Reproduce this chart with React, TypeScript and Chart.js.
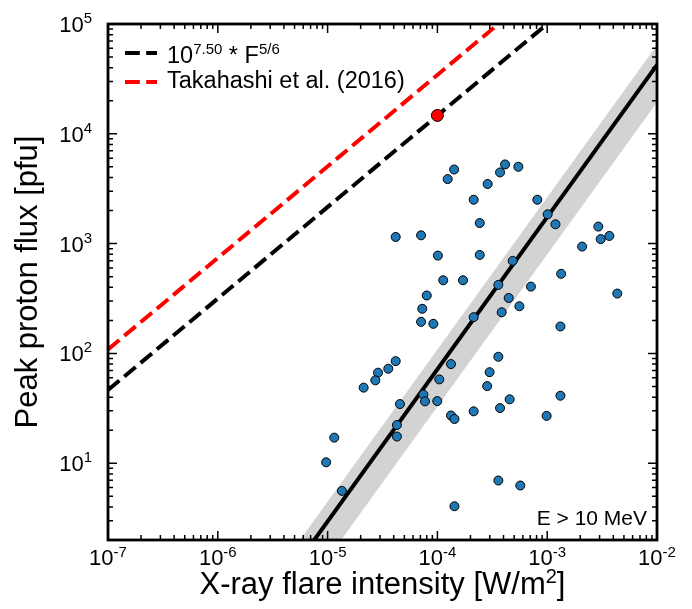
import React, { useEffect, useRef } from 'react';
import { Chart, registerables } from 'chart.js';

Chart.register(...registerables);

// ---- data ----
const FLARE_INTENSITY = [
  1.24e-4, 1.42e-4, 2.87e-4, 3.72e-4, 4.13e-4, 5.46e-4, 4.17e-5, 7.1e-5, 1.01e-4, 1.13e-4,
  1.71e-4, 8.0e-5, 2.14e-4, 2.43e-4, 2.43e-4, 8.13e-4, 1.01e-3, 1.19e-3, 4.85e-4, 3.59e-4,
  4.46e-4, 7.11e-4, 1.34e-3, 2.08e-3, 2.92e-3, 3.07e-3, 3.68e-3, 4.35e-3, 7.28e-5, 7.1e-5,
  9.18e-5, 2.14e-4, 3.85e-4, 5.58e-4, 1.32e-3, 4.17e-5, 3.57e-5, 2.88e-5, 2.72e-5, 2.13e-5,
  1.33e-4, 1.04e-4, 7.45e-5, 7.71e-5, 9.97e-5, 4.56e-5, 4.28e-5, 4.28e-5, 1.33e-4, 1.43e-4,
  3.59e-4, 2.99e-4, 2.84e-4, 4.55e-4, 3.72e-4, 2.14e-4, 9.88e-4, 1.32e-3, 3.59e-4, 5.69e-4,
  1.43e-4, 1.35e-5, 1.15e-5, 9.7e-6,
];
const PEAK_FLUX = [
  3870, 4730, 3490, 4450, 5260, 5010, 1150, 1190, 778, 464,
  464, 337, 2510, 1540, 789, 2510, 1850, 1500, 696, 421,
  320, 406, 531, 940, 1430, 1100, 1175, 351, 255, 194,
  186, 214, 237, 269, 176, 85.1, 72.6, 66.8, 56.9, 48.8,
  80.0, 58.0, 42.2, 36.6, 36.8, 34.6, 22.3, 17.5, 27.2, 25.3,
  93.3, 67.5, 50.4, 38.2, 31.8, 29.7, 27.0, 41.2, 6.96, 6.27,
  4.06, 5.6, 17.1, 10.2,
];
const HIGHLIGHT_X = [1.0e-4];
const HIGHLIGHT_Y = [14700];

// model lines: log10(y) = A + B * log10(x)
const FIT_LOG_A = 7.40;
const FIT_B = 1.386;
const BAND_UP = 0.18; // decades above fit
const BAND_DOWN = 0.34; // decades below fit
const UPPER_LOG_A = 7.5;
const UPPER_B = 5 / 6;
const TAKAHASHI_LOG_A = 7.87;
const TAKAHASHI_B = 5 / 6;

const X_MIN = 1e-7;
const X_MAX = 1e-2;
const Y_MIN = 2;
const Y_MAX = 1e5;
const X_TICK_EXP = ['-7', '-6', '-5', '-4', '-3', '-2'];
const Y_TICK_EXP = ['1', '2', '3', '4', '5'];

const LEGEND_1 = ['10', '7.50', ' * F', '5/6'];
const LEGEND_2 = 'Takahashi et al. (2016)';
const X_TITLE = ['X-ray flare intensity [W/m', '2', ']'];
const Y_TITLE = 'Peak proton flux [pfu]';
const ENERGY_LABEL = 'E > 10 MeV';

const FONT = "'Liberation Sans', Arial, Helvetica, sans-serif";
const DASH = [14.8, 6.4];

const line = (logA: number, b: number, shift = 0) =>
  [X_MIN, X_MAX].map((x) => ({ x, y: Math.pow(10, logA + shift + b * Math.log10(x)) }));

type Part = [string, number, number];
function drawParts(ctx: CanvasRenderingContext2D, parts: Part[], x: number, y: number, align: 'left' | 'center' | 'right') {
  let total = 0;
  for (const [t, s] of parts) {
    ctx.font = `${s}px ${FONT}`;
    total += ctx.measureText(t).width;
  }
  let cx = align === 'left' ? x : align === 'center' ? x - total / 2 : x - total;
  ctx.textAlign = 'left';
  ctx.textBaseline = 'alphabetic';
  for (const [t, s, r] of parts) {
    ctx.font = `${s}px ${FONT}`;
    ctx.fillText(t, cx, y - r);
    cx += ctx.measureText(t).width;
  }
}

const framePlugin = {
  id: 'frame',
  afterDatasetsDraw(chart: any) {
    const { ctx, chartArea: a, scales } = chart;
    const xs = scales.x;
    const ys = scales.y;
    ctx.save();
    ctx.fillStyle = '#000';
    ctx.strokeStyle = '#000';

    // minor / major ticks, inward on all four sides
    ctx.lineWidth = 1.5;
    ctx.beginPath();
    for (let e = Math.floor(Math.log10(X_MIN)); e <= Math.ceil(Math.log10(X_MAX)); e++) {
      for (let m = 1; m <= 9; m++) {
        const v = m * Math.pow(10, e);
        if (v < X_MIN * 0.999 || v > X_MAX * 1.001) continue;
        const px = xs.getPixelForValue(v);
        const len = m === 1 ? 9 : 5;
        ctx.moveTo(px, a.bottom);
        ctx.lineTo(px, a.bottom - len);
        ctx.moveTo(px, a.top);
        ctx.lineTo(px, a.top + len);
      }
    }
    for (let e = Math.floor(Math.log10(Y_MIN)); e <= Math.ceil(Math.log10(Y_MAX)); e++) {
      for (let m = 1; m <= 9; m++) {
        const v = m * Math.pow(10, e);
        if (v < Y_MIN * 0.999 || v > Y_MAX * 1.001) continue;
        const py = ys.getPixelForValue(v);
        const len = m === 1 ? 9 : 5;
        ctx.moveTo(a.left, py);
        ctx.lineTo(a.left + len, py);
        ctx.moveTo(a.right, py);
        ctx.lineTo(a.right - len, py);
      }
    }
    ctx.stroke();

    // frame
    ctx.lineWidth = 2.8;
    ctx.strokeRect(a.left, a.top, a.right - a.left, a.bottom - a.top);

    // tick labels
    for (const e of X_TICK_EXP) {
      const px = xs.getPixelForValue(Math.pow(10, Number(e)));
      drawParts(ctx, [['10', 22, 0], [e, 15, 8]], px, a.bottom + 25, 'center');
    }
    for (const e of Y_TICK_EXP) {
      const py = ys.getPixelForValue(Math.pow(10, Number(e)));
      drawParts(ctx, [['10', 22, 0], [e, 15, 9]], a.left - 16, py + 8, 'right');
    }

    // axis titles
    drawParts(ctx, [[X_TITLE[0], 31, 0], [X_TITLE[1], 20, 11], [X_TITLE[2], 31, 0]], (a.left + a.right) / 2, a.bottom + 54, 'center');
    ctx.save();
    ctx.translate(a.left - 71, (a.top + a.bottom) / 2);
    ctx.rotate(-Math.PI / 2);
    drawParts(ctx, [[Y_TITLE, 31, 0]], 0, 0, 'center');
    ctx.restore();

    // legend
    ctx.lineWidth = 4;
    ctx.setLineDash(DASH);
    ctx.beginPath();
    ctx.strokeStyle = '#000';
    ctx.moveTo(a.left + 17, a.top + 29);
    ctx.lineTo(a.left + 49, a.top + 29);
    ctx.stroke();
    ctx.beginPath();
    ctx.strokeStyle = '#ff0000';
    ctx.moveTo(a.left + 17, a.top + 58);
    ctx.lineTo(a.left + 49, a.top + 58);
    ctx.stroke();
    ctx.setLineDash([]);
    drawParts(ctx, [[LEGEND_1[0], 23.5, 0], [LEGEND_1[1], 15, 9], [LEGEND_1[2], 23.5, 0], [LEGEND_1[3], 15, 9]], a.left + 59, a.top + 39, 'left');
    drawParts(ctx, [[LEGEND_2, 23.5, 0]], a.left + 59, a.top + 64, 'left');

    // energy label
    drawParts(ctx, [[ENERGY_LABEL, 21, 0]], a.right - 10, a.bottom - 15, 'right');
    ctx.restore();
  },
};

export default function App() {
  const ref = useRef<HTMLCanvasElement | null>(null);
  useEffect(() => {
    if (!ref.current) return;
    const chart = new Chart(ref.current, {
      type: 'scatter',
      data: {
        datasets: [
          {
            label: 'highlight',
            data: HIGHLIGHT_X.map((x, i) => ({ x, y: HIGHLIGHT_Y[i] })),
            backgroundColor: '#ff0000',
            borderColor: '#000',
            borderWidth: 1,
            pointRadius: 6,
            order: 0,
          },
          {
            label: 'events',
            data: FLARE_INTENSITY.map((x, i) => ({ x, y: PEAK_FLUX[i] })),
            backgroundColor: '#1f77b4',
            borderColor: '#000',
            borderWidth: 1,
            pointRadius: 4.5,
            order: 1,
          },
          {
            label: 'upper',
            data: line(UPPER_LOG_A, UPPER_B),
            showLine: true,
            borderColor: '#000',
            borderWidth: 4,
            borderDash: DASH,
            pointRadius: 0,
            clip: 0,
            order: 2,
          },
          {
            label: 'takahashi',
            data: line(TAKAHASHI_LOG_A, TAKAHASHI_B),
            showLine: true,
            borderColor: '#ff0000',
            borderWidth: 4,
            borderDash: DASH,
            pointRadius: 0,
            clip: 0,
            order: 3,
          },
          {
            label: 'fit',
            data: line(FIT_LOG_A, FIT_B),
            showLine: true,
            borderColor: '#000',
            borderWidth: 4,
            pointRadius: 0,
            clip: 0,
            order: 4,
          },
          {
            label: 'band-up',
            data: line(FIT_LOG_A, FIT_B, BAND_UP),
            showLine: true,
            borderWidth: 0,
            borderColor: 'rgba(0,0,0,0)',
            backgroundColor: '#d3d3d3',
            fill: '+1',
            pointRadius: 0,
            clip: 0,
            order: 5,
          },
          {
            label: 'band-down',
            data: line(FIT_LOG_A, FIT_B, -BAND_DOWN),
            showLine: true,
            borderWidth: 0,
            borderColor: 'rgba(0,0,0,0)',
            pointRadius: 0,
            clip: 0,
            order: 6,
          },
        ] as any,
      },
      options: {
        responsive: false,
        animation: false,
        events: [],
        layout: { padding: { left: 100, top: 16, right: 27, bottom: 61 } },
        plugins: { legend: { display: false }, tooltip: { enabled: false } },
        scales: {
          x: { type: 'logarithmic', min: X_MIN, max: X_MAX, display: false },
          y: { type: 'logarithmic', min: Y_MIN, max: Y_MAX, display: false },
        },
      },
      plugins: [framePlugin],
    });
    return () => chart.destroy();
  }, []);
  return (
    <div style={{ width: 676, height: 593 }}>
      <canvas ref={ref} width={676} height={593} style={{ display: 'block' }} />
    </div>
  );
}
